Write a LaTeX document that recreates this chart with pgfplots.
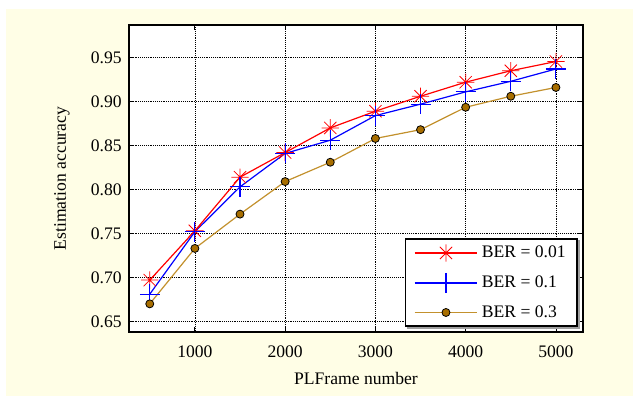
\documentclass[border=0pt]{standalone}
\usepackage{fontspec}
\setmainfont{Liberation Serif}
\usepackage{pgfplots}
\pgfplotsset{compat=1.18}
\definecolor{bgyellow}{RGB}{255,254,230}
\definecolor{brline}{RGB}{195,145,45}
\definecolor{brfill}{RGB}{168,110,0}
\pgfdeclareplotmark{mstar}{%
  \pgfpathmoveto{\pgfqpoint{-\pgfplotmarksize}{0pt}}\pgfpathlineto{\pgfqpoint{\pgfplotmarksize}{0pt}}%
  \pgfpathmoveto{\pgfqpoint{0pt}{-\pgfplotmarksize}}\pgfpathlineto{\pgfqpoint{0pt}{\pgfplotmarksize}}%
  \pgfpathmoveto{\pgfqpoint{-0.707\pgfplotmarksize}{-0.707\pgfplotmarksize}}\pgfpathlineto{\pgfqpoint{0.707\pgfplotmarksize}{0.707\pgfplotmarksize}}%
  \pgfpathmoveto{\pgfqpoint{-0.707\pgfplotmarksize}{0.707\pgfplotmarksize}}\pgfpathlineto{\pgfqpoint{0.707\pgfplotmarksize}{-0.707\pgfplotmarksize}}%
  \pgfusepathqstroke}
\begin{document}
\begin{tikzpicture}[font=\fontsize{13.2}{15.8}\selectfont]
\useasboundingbox (-96.75pt,-48pt) rectangle (378pt,249pt);
\fill[white] (-96.75pt,-48pt) rectangle (378pt,249pt);
\fill[bgyellow] (-92.25pt,-49pt) rectangle (379pt,242.25pt);
\begin{axis}[
  at={(0,0)}, anchor=south west,
  scale only axis, width=340.5pt, height=230.25pt,
  xmin=270, xmax=5300, ymin=0.638, ymax=0.987,
  xtick={1000,2000,3000,4000,5000},
  ytick={0.65,0.70,0.75,0.80,0.85,0.90,0.95},
  /pgf/number format/assume math mode=true,
  xticklabel={\rmfamily\pgfmathprintnumber[1000 sep={}]{\tick}},
  yticklabel={\rmfamily\pgfmathprintnumber[fixed,fixed zerofill,precision=2]{\tick}},
  xticklabel style={anchor=center, yshift=-15pt},
  yticklabel style={anchor=east, xshift=-2pt},
  scaled ticks=false,
  tick align=inside, major tick length=3.5pt,
  tick style={black, line width=0.6pt},
  axis line style={line width=1.3pt},
  axis background/.style={fill=white},
  grid=major,
  major grid style={black, densely dotted, line width=0.55pt},
  xlabel={PLFrame number},
  ylabel={Estimation accuracy},
  xlabel style={at={(axis description cs:0.5,-0.1498)}, anchor=center},
  ylabel style={at={(axis description cs:-0.1476,0.5)}, anchor=center},
  legend cell align=left,
  legend style={name=myleg, at={(1,0)}, anchor=south east, xshift=-4pt, yshift=4pt,
    draw=black, line width=1pt, fill=white,
    inner xsep=6.5pt, inner ysep=4pt, row sep=8.5pt, column sep=1pt,
    nodes={inner xsep=2pt, inner ysep=1pt},
    font=\fontsize{13.2}{15.8}\selectfont},
  legend image code/.code={\draw[mark repeat=2,mark phase=2] plot coordinates {(0pt,0pt)(23.5pt,0pt)(47pt,0pt)};},
]
\addplot[red, line width=0.9pt, mark=mstar, mark size=6.5pt, mark options={line width=0.6pt}] coordinates {
(500,0.697)(1000,0.753)(1500,0.814)(2000,0.842)(2500,0.870)(3000,0.889)(3500,0.906)(4000,0.922)(4500,0.935)(5000,0.9455)};
\addlegendentry{BER = 0.01}
\addplot[blue, line width=0.9pt, mark=+, mark size=7.5pt, mark options={line width=0.8pt}] coordinates {
(500,0.681)(1000,0.752)(1500,0.803)(2000,0.841)(2500,0.856)(3000,0.884)(3500,0.897)(4000,0.911)(4500,0.923)(5000,0.937)};
\addlegendentry{BER = 0.1}
\addplot[brline, line width=0.9pt, mark=*, mark size=3pt, mark options={fill=brfill, draw=black, line width=0.6pt}] coordinates {
(500,0.670)(1000,0.733)(1500,0.772)(2000,0.809)(2500,0.831)(3000,0.858)(3500,0.868)(4000,0.8935)(4500,0.906)(5000,0.916)};
\addlegendentry{BER = 0.3}
\end{axis}
\fill[gray!75] ([shift={(0.5pt,-0.5pt)}]myleg.south west) ++(1.5pt,0) rectangle ([shift={(2pt,-2pt)}]myleg.south east);
\fill[gray!75] ([shift={(0.5pt,-2pt)}]myleg.south east) rectangle ([shift={(2pt,-1.5pt)}]myleg.north east);
\end{tikzpicture}
\end{document}
